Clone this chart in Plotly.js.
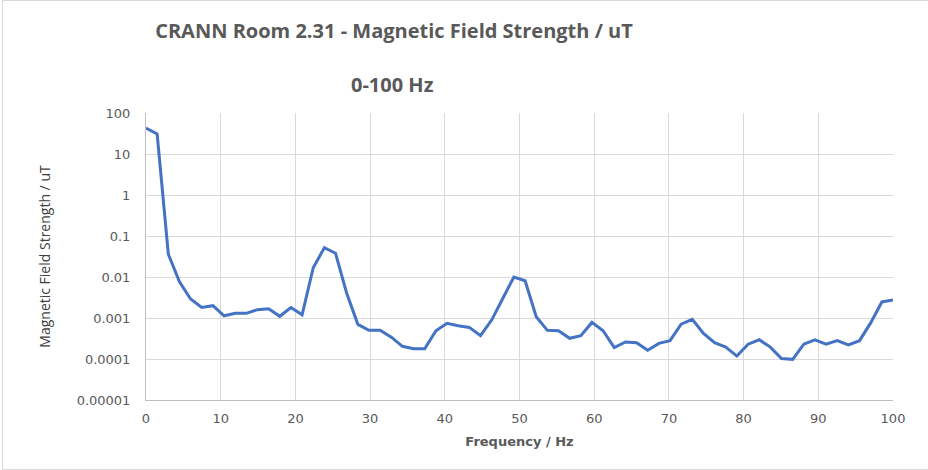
<!DOCTYPE html>
<html>
<head>
<meta charset="utf-8">
<script src="https://cdn.plot.ly/plotly-3.0.1.min.js"></script>
<style>
html,body{margin:0;padding:0;background:#fff;}
#frame{position:absolute;left:2px;top:0px;width:940px;height:470px;border-top:1px solid #d9d9d9;border-left:1px solid #d9d9d9;border-bottom:1px solid #d9d9d9;box-sizing:border-box;pointer-events:none;}
#chart{position:absolute;left:0;top:0;width:928px;height:470px;}
</style>
</head>
<body>
<div id="chart"></div>
<div id="frame"></div>
<script>
const titleLine1 = "CRANN Room 2.31 - Magnetic Field Strength / uT";
const titleLine2 = "0-100 Hz";
const xTitle = "Frequency / Hz";
const yTitle = "Magnetic Field Strength / uT";

const frequencyHz = [
  0, 1.49, 2.99, 4.48, 5.97, 7.46, 8.96, 10.45, 11.94, 13.43,
  14.93, 16.42, 17.91, 19.40, 20.90, 22.39, 23.88, 25.37, 26.87, 28.36,
  29.85, 31.34, 32.84, 34.33, 35.82, 37.31, 38.81, 40.30, 41.79, 43.28,
  44.78, 46.27, 47.76, 49.25, 50.75, 52.24, 53.73, 55.22, 56.72, 58.21,
  59.70, 61.19, 62.69, 64.18, 65.67, 67.16, 68.66, 70.15, 71.64, 73.13,
  74.63, 76.12, 77.61, 79.10, 80.60, 82.09, 83.58, 85.07, 86.57, 88.06,
  89.55, 91.04, 92.54, 94.03, 95.52, 97.01, 98.51, 100
];
const fieldStrength = [
  43, 31, 0.036, 0.0076, 0.0029, 0.0018, 0.0020, 0.00113, 0.0013, 0.0013,
  0.0016, 0.00167, 0.0011, 0.0018, 0.0012, 0.0168, 0.052, 0.038, 0.004, 0.0007,
  0.0005, 0.0005, 0.00034, 0.000204, 0.000178, 0.000178, 0.00049, 0.00074, 0.00065, 0.00059,
  0.00037, 0.00089, 0.003, 0.010, 0.0081, 0.00107, 0.0005, 0.00049, 0.00032, 0.00037,
  0.00078, 0.00049, 0.00019, 0.00026, 0.00025, 0.000163, 0.00024, 0.00028, 0.00071, 0.00093,
  0.00042, 0.00025, 0.000195, 0.000118, 0.00023, 0.000295, 0.000195, 0.000103, 0.000098, 0.00023,
  0.000295, 0.00023, 0.00028, 0.00022, 0.00028, 0.00076, 0.00246, 0.00275
];
const yTickVals = [0.00001, 0.0001, 0.001, 0.01, 0.1, 1, 10, 100];
const yTickText = ["0.00001", "0.0001", "0.001", "0.01", "0.1", "1", "10", "100"];
const xTickVals = [0, 10, 20, 30, 40, 50, 60, 70, 80, 90, 100];

const titleFont = "'Open Sans', 'Noto Sans', sans-serif";
const tickFont = "'DejaVu Sans', 'Open Sans', sans-serif";
const gray = "#595959";

const trace = {
  x: frequencyHz,
  y: fieldStrength,
  type: "scatter",
  mode: "lines",
  line: {color: "#4472c4", width: 3},
  hoverinfo: "x+y"
};

const layout = {
  width: 928,
  height: 470,
  paper_bgcolor: "#ffffff",
  plot_bgcolor: "#ffffff",
  showlegend: false,
  margin: {l: 146, r: 35, t: 113, b: 70, pad: 0},
  title: {
    text: "<b>" + titleLine1 + "</b>",
    font: {family: titleFont, size: 20, color: gray},
    xref: "container", x: 394 / 928, xanchor: "center",
    yref: "container", y: 1 - 31 / 470, yanchor: "middle"
  },
  annotations: [{
    text: "<b>" + titleLine2 + "</b>",
    xref: "paper", yref: "paper",
    x: (392 - 146) / 747, y: 1 + (113 - 85) / 287,
    xanchor: "center", yanchor: "middle",
    showarrow: false,
    font: {family: titleFont, size: 20, color: gray}
  }],
  xaxis: {
    range: [0, 100],
    tickvals: xTickVals,
    ticks: "",
    showgrid: true,
    gridcolor: "#d9d9d9",
    gridwidth: 1,
    zeroline: false,
    showline: true,
    linecolor: "#bfbfbf",
    linewidth: 1,
    tickfont: {family: tickFont, size: 13, color: gray},
    ticklabelstandoff: 6,
    title: {text: "<b>" + xTitle + "</b>", font: {family: tickFont, size: 13, color: gray}, standoff: 12}
  },
  yaxis: {
    type: "log",
    range: [-5, 2],
    tickvals: yTickVals,
    ticktext: yTickText,
    ticks: "",
    showgrid: true,
    gridcolor: "#d9d9d9",
    gridwidth: 1,
    zeroline: false,
    showline: true,
    linecolor: "#bfbfbf",
    linewidth: 1,
    tickfont: {family: tickFont, size: 13, color: gray},
    ticklabelstandoff: 12,
    title: {text: yTitle, font: {family: titleFont, size: 14, color: "#404040"}, standoff: 22}
  }
};

Plotly.newPlot("chart", [trace], layout, {displayModeBar: false, staticPlot: true});
</script>
</body>
</html>
